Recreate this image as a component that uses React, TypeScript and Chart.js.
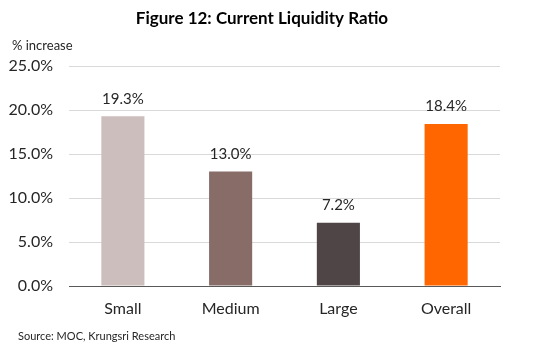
import React, { useEffect, useRef } from "react";
import { Chart, registerables } from "chart.js";

Chart.register(...registerables);

const categories = ["Small", "Medium", "Large", "Overall"];
const values = [19.3, 13.0, 7.2, 18.4];
const barColors = ["#CCBEBC", "#886C68", "#504546", "#FF6600"];
const yTicks = [0, 5, 10, 15, 20, 25];
const titleText = "Figure 12: Current Liquidity Ratio";
const yAxisLabel = "% increase";
const sourceText = "Source: MOC, Krungsri Research";

const FONT = "Lato, 'Open Sans', sans-serif";

const textPlugin = {
  id: "texts",
  afterDatasetsDraw(chart: any) {
    const ctx = chart.ctx;
    ctx.save();
    // data labels
    const meta = chart.getDatasetMeta(0);
    ctx.fillStyle = "#262626";
    ctx.font = `15px ${FONT}`;
    ctx.textAlign = "center";
    ctx.textBaseline = "bottom";
    meta.data.forEach((bar: any, i: number) => {
      ctx.fillText(values[i].toFixed(1) + "%", bar.x, bar.y - 10);
    });
    // title
    ctx.font = `bold 17px ${FONT}`;
    ctx.textBaseline = "middle";
    ctx.fillStyle = "#000000";
    ctx.fillText(titleText, 262, 19);
    // axis label
    ctx.font = `13px ${FONT}`;
    ctx.textAlign = "left";
    ctx.fillStyle = "#262626";
    ctx.fillText(yAxisLabel, 12, 46);
    // source
    ctx.font = `11px ${FONT}`;
    ctx.fillText(sourceText, 18, 336);
    ctx.restore();
  },
};

export default function App() {
  const ref = useRef<HTMLCanvasElement>(null);
  useEffect(() => {
    document.body.style.margin = "0";
    const chart = new Chart(ref.current!, {
      type: "bar",
      data: {
        labels: categories,
        datasets: [
          {
            data: values,
            backgroundColor: barColors,
            categoryPercentage: 1,
            barPercentage: 0.4,
          },
        ],
      },
      options: {
        responsive: false,
        animation: false,
        layout: { padding: { top: 66, right: 35, bottom: 0, left: 0 } },
        plugins: { legend: { display: false }, tooltip: { enabled: false }, title: { display: false } },
        scales: {
          x: {
            grid: { display: false },
            border: { display: true, color: "#595959", width: 1 },
            ticks: { color: "#262626", font: { family: FONT, size: 16 }, padding: 5 },
            afterFit: (s: any) => {
              s.height = 65;
            },
          },
          y: {
            min: 0,
            max: 25,
            afterBuildTicks: (s: any) => {
              s.ticks = yTicks.map((v) => ({ value: v }));
            },
            grid: { color: "#D9D9D9", drawTicks: false },
            border: { display: false },
            ticks: {
              color: "#262626",
              font: { family: FONT, size: 16 },
              padding: 16,
              callback: (v: any) => Number(v).toFixed(1) + "%",
            },
            afterFit: (s: any) => {
              s.width = 69;
            },
          },
        },
      },
      plugins: [textPlugin],
    });
    return () => chart.destroy();
  }, []);
  return (
    <div style={{ position: "absolute", left: 0, top: 0, width: 535, height: 351, background: "#fff" }}>
      <canvas ref={ref} width={535} height={351} />
    </div>
  );
}
